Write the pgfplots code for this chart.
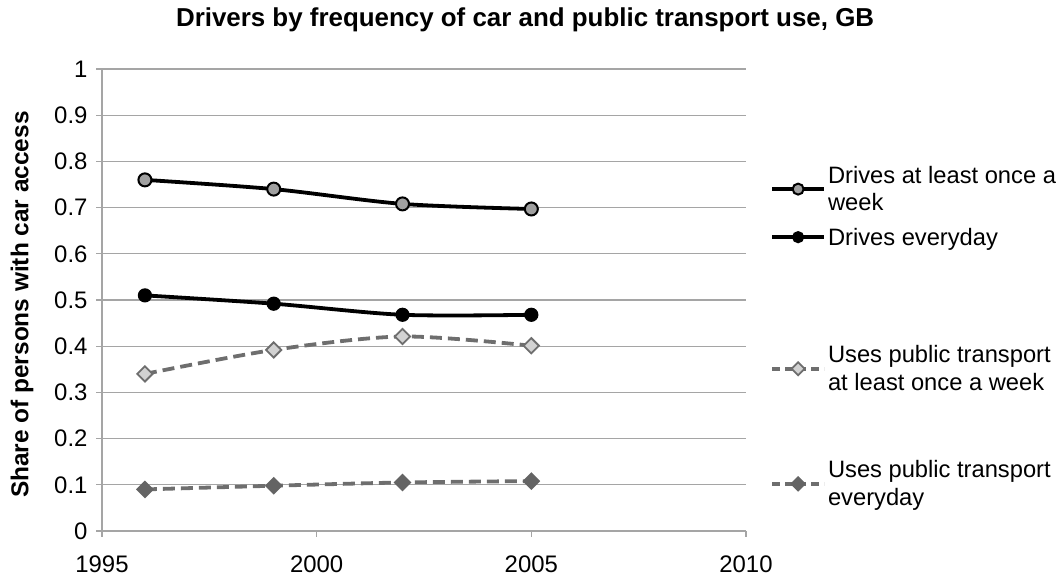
\documentclass[border=0pt]{standalone}
\usepackage{fontspec}
\setmainfont{Liberation Sans}
\usepackage{pgfplots}
\pgfplotsset{compat=1.18}
\definecolor{gridc}{RGB}{165,165,165}
\definecolor{markA}{RGB}{160,160,160}
\definecolor{dashc}{RGB}{110,110,110}
\definecolor{markC}{RGB}{210,210,210}
\definecolor{markD}{RGB}{100,100,100}
\pgfplotsset{
  mylegimg/.style={legend image code/.code={
    \draw[mark repeat=2,mark phase=2,##1] plot coordinates {(0bp,0bp) (26bp,0bp) (52bp,0bp)};}},
  legax/.style={
    scale only axis, width=644bp, height=462bp, hide axis,
    xmin=1995, xmax=2010, ymin=0, ymax=1,
    mylegimg,
    legend cell align=left,
    legend style={draw=none, fill=none, inner xsep=0pt, inner ysep=0pt,
      font=\fontsize{23.8}{28}\selectfont, anchor=west,
      nodes={align=left, inner xsep=2bp, inner ysep=0pt}},
  },
}
\tikzset{
  sA/.style={black, line width=3.8bp, mark=*, mark size=6.5bp, mark options={solid, fill=markA, draw=black, line width=2bp}},
  sB/.style={black, line width=3.8bp, mark=*, mark size=6.5bp, mark options={solid, fill=black, draw=black, line width=1.2bp}},
  sC/.style={dashc, line width=3.8bp, dash pattern=on 12bp off 6bp, mark=square*, mark size=5.4bp, mark options={solid, rotate=45, fill=markC, draw=dashc, line width=1.8bp}},
  sD/.style={dashc, line width=3.8bp, dash pattern=on 12bp off 6bp, mark=square*, mark size=5.4bp, mark options={solid, rotate=45, fill=markD, draw=markD, line width=1.8bp}},
}
\begin{document}
\begin{tikzpicture}
\useasboundingbox (-102bp,-51bp) rectangle (958bp,531bp);
\begin{axis}[
  scale only axis, width=644bp, height=462bp,
  at={(0,0)}, anchor=south west,
  xmin=1995, xmax=2010, ymin=0, ymax=1,
  xtick={1995,2000,2005,2010},
  ytick={0,0.1,...,1.0},
  axis x line*=bottom, axis y line*=left,
  axis line style={gridc, line width=1.2bp, -},
  ymajorgrids, major grid style={gridc, line width=1.2bp},
  tick style={gridc, line width=1.2bp},
  tick align=outside, major tick length=6bp,
  x tick label style={/pgf/number format/1000 sep={}, yshift=-15bp},
  y tick label style={/pgf/number format/fixed, /pgf/number format/precision=1, xshift=-5bp},
  /pgf/number format/assume math mode=true,
  ticklabel style={font=\fontsize{24}{28}\selectfont},
  ylabel={\textbf{Share of persons with car access}},
  ylabel style={font=\fontsize{24.5}{29}\selectfont, at={(axis description cs:-0.124,0.49)}, anchor=center, rotate=0},
  clip=false,
]
\addplot+[sA, smooth, tension=0.5] coordinates {(1996,0.760) (1999,0.740) (2002,0.708) (2005,0.697)};
\addplot+[sB, smooth, tension=0.5] coordinates {(1996,0.510) (1999,0.492) (2002,0.468) (2005,0.468)};
\addplot+[sC, smooth, tension=0.5] coordinates {(1996,0.340) (1999,0.392) (2002,0.421) (2005,0.401)};
\addplot+[sD, smooth, tension=0.5] coordinates {(1996,0.090) (1999,0.098) (2002,0.105) (2005,0.108)};
\node[font=\fontsize{26}{30}\selectfont\bfseries, anchor=center] at (axis description cs:0.657,1.106) {Drivers by frequency of car and public transport use, GB};
\end{axis}
\begin{axis}[legax, at={(0,0)}, anchor=south west, legend style={at={(1.0373,0.740)}}]
\addlegendimage{sA, mark size=5.5bp}
\addlegendentry{Drives at least once a\\week}
\end{axis}
\begin{axis}[legax, at={(0,0)}, anchor=south west, legend style={at={(1.0373,0.636)}}]
\addlegendimage{sB, mark size=5.5bp}
\addlegendentry{Drives everyday}
\end{axis}
\begin{axis}[legax, at={(0,0)}, anchor=south west, legend style={at={(1.0373,0.351)}}]
\addlegendimage{sC, mark size=4.6bp, dash pattern=on 8bp off 5bp}
\addlegendentry{Uses public transport\\at least once a week}
\end{axis}
\begin{axis}[legax, at={(0,0)}, anchor=south west, legend style={at={(1.0373,0.102)}}]
\addlegendimage{sD, mark size=4.6bp, dash pattern=on 8bp off 5bp}
\addlegendentry{Uses public transport\\everyday}
\end{axis}
\end{tikzpicture}
\end{document}
